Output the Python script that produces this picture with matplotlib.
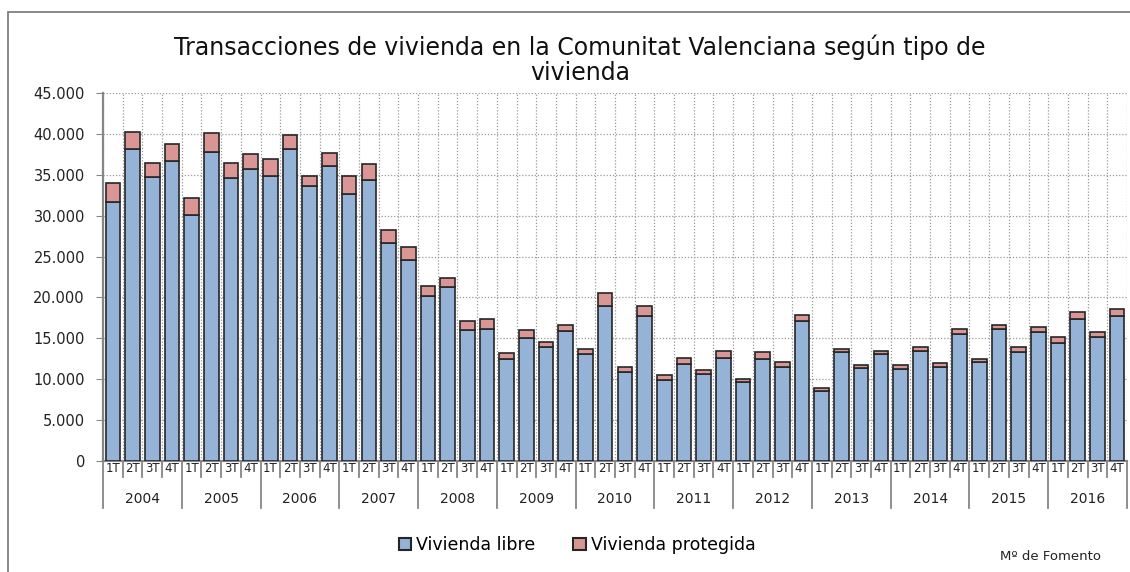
import matplotlib
matplotlib.use("Agg")
import matplotlib.pyplot as plt
from matplotlib.patches import Rectangle
from matplotlib.ticker import FuncFormatter, FixedLocator
import matplotlib.transforms as mtransforms

years = ["2004", "2005", "2006", "2007", "2008", "2009", "2010",
         "2011", "2012", "2013", "2014", "2015", "2016"]
quarters = ["1T", "2T", "3T", "4T"]

libre = [31700, 38200, 34700, 36700,
         30100, 37800, 34600, 35700,
         34800, 38100, 33600, 36100,
         32600, 34350, 26700, 24600,
         20200, 21300, 16050, 16200,
         12500, 15000, 13950, 15900,
         13050, 19000, 10900, 17700,
         9900, 11850, 10600, 12550,
         9600, 12500, 11450, 17150,
         8600, 13300, 11350, 13100,
         11300, 13500, 11550, 15550,
         12050, 16100, 13300, 15750,
         14450, 17400, 15200, 17700]
total = [34000, 40200, 36500, 38750,
         32100, 40050, 36500, 37600,
         36900, 39900, 34900, 37700,
         34800, 36350, 28200, 26200,
         21450, 22400, 17150, 17350,
         13200, 16000, 14600, 16600,
         13700, 20600, 11550, 18950,
         10500, 12550, 11100, 13400,
         10000, 13300, 12050, 17800,
         8900, 13750, 11800, 13500,
         11700, 14000, 11950, 16200,
         12500, 16600, 13900, 16400,
         15150, 18200, 15800, 18600]
protegida = [t - l for t, l in zip(total, libre)]

C_LIBRE = "#95B3D7"
C_PROT = "#D99694"
EDGE = "#262626"
GRAY = "#868686"

plt.rcParams['font.family'] = ['DejaVu Sans']

W, H = 1130, 572
fig = plt.figure(figsize=(W / 100, H / 100), dpi=100)

# outer chart border
fig.patches.append(Rectangle((8 / W, 0 - 0.01), 1.2, (H - 12) / H + 0.01,
                             transform=fig.transFigure, fill=False,
                             edgecolor="#7f7f7f", linewidth=1.3, zorder=0))

ax = fig.add_axes([103 / W, 1 - 461 / H, (1127 - 103) / W, (461 - 93) / H])

n = len(libre)
x = list(range(n))
ax.bar(x, libre, width=0.74, color=C_LIBRE, edgecolor=EDGE, linewidth=1.2, zorder=3,
       label="Vivienda libre")
ax.bar(x, protegida, bottom=libre, width=0.74, color=C_PROT, edgecolor=EDGE,
       linewidth=1.2, zorder=3, label="Vivienda protegida")

ax.set_xlim(-0.5, n - 0.5)
ax.set_ylim(0, 45000)
ax.yaxis.set_major_locator(FixedLocator(range(0, 45001, 5000)))
ax.yaxis.set_major_formatter(FuncFormatter(lambda v, p: f"{int(v):,}".replace(",", ".")))
ax.tick_params(axis="y", length=5, color=GRAY, labelsize=10.5, pad=8, labelcolor="#222222")

# vertical grid at category boundaries
bounds = [i + 0.5 for i in range(-1, n)]
for b in bounds:
    ax.axvline(b, color="#9a9a9a", linestyle=(0, (1, 1.5)), linewidth=0.9, zorder=1)
ax.yaxis.grid(True, color="#9a9a9a", linestyle=(0, (1, 1.5)), linewidth=0.9, zorder=1)
ax.set_axisbelow(True)

for s in ["top", "right"]:
    ax.spines[s].set_visible(False)
ax.spines["left"].set_color(GRAY)
ax.spines["left"].set_linewidth(1.6)
ax.spines["bottom"].set_color(GRAY)
ax.spines["bottom"].set_linewidth(1.6)

# x axis: separators and labels
ax.set_xticks([])
trans = mtransforms.blended_transform_factory(ax.transData, ax.transAxes)
axh = (461 - 93)
short = -16 / axh
long_ = -47 / axh
for i, b in enumerate(bounds):
    length = long_ if i % 4 == 0 else short
    ax.plot([b, b], [0, length], transform=trans, color=GRAY, linewidth=1.3,
            clip_on=False, zorder=4)
for i in range(n):
    ax.text(i, -8 / axh, quarters[i % 4], transform=trans, ha="center", va="center",
            fontsize=8.5, color="#222222")
for k, yr in enumerate(years):
    ax.text(4 * k + 1.5, -38 / axh, yr, transform=trans, ha="center", va="center",
            fontsize=10, color="#222222")

fig.text(580 / W, 1 - 60 / H,
         "Transacciones de vivienda en la Comunitat Valenciana según tipo de\nvivienda",
         ha="center", va="center", fontsize=17, color="#111111", linespacing=1.05)

leg = fig.legend(loc="center", bbox_to_anchor=(577 / W, 1 - 545 / H), ncol=2,
                 frameon=False, fontsize=12.5, handlelength=0.7, handleheight=0.7,
                 handletextpad=0.3, columnspacing=2.2)
for h in leg.legend_handles:
    h.set_linewidth(1.5)

fig.text(1050 / W, 1 - 557 / H, "Mº de Fomento", ha="center", va="center",
         fontsize=9.5, color="#222222")

fig.savefig("out.png", dpi=100)
